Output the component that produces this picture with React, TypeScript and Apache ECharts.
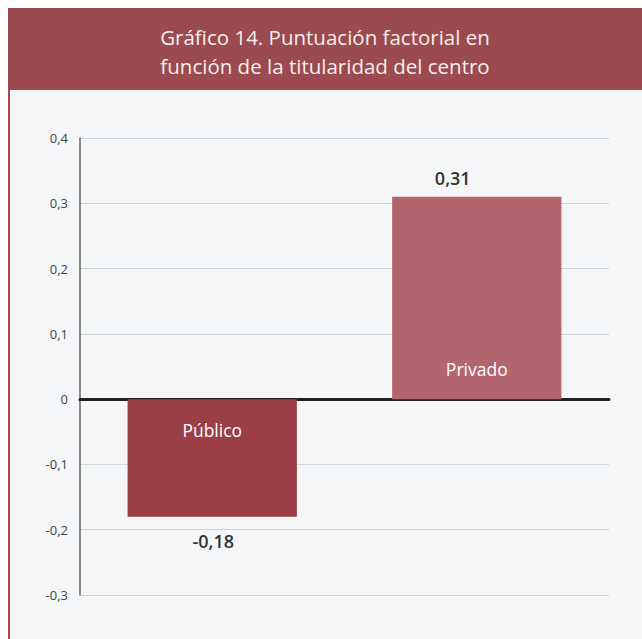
import React, { useEffect, useRef } from "react";
import * as echarts from "echarts";

const categories: string[] = ["Público", "Privado"];
const values: number[] = [-0.18, 0.31];
const barColors: string[] = ["#9a3f45", "#b3656e"];
const yTicks: number[] = [-0.3, -0.2, -0.1, 0, 0.1, 0.2, 0.3, 0.4];
const titleLines: string[] = [
  "Gráfico 14. Puntuación factorial en",
  "función de la titularidad del centro",
];

const fmt = (v: number) => {
  const r = Math.round(v * 100) / 100;
  if (r === 0) return "0";
  return String(r).replace(".", ",");
};

export default function App() {
  const ref = useRef<HTMLDivElement>(null);
  useEffect(() => {
    if (!ref.current) return;
    const chart = echarts.init(ref.current, undefined, { renderer: "svg" });
    const font = "Open Sans, Lato, sans-serif";
    chart.setOption({
      animation: false,
      backgroundColor: "#ffffff",
      graphic: [
        { type: "rect", shape: { x: 8, y: 90, width: 634, height: 549 }, style: { fill: "#f4f6f8" }, z: -10 },
        { type: "rect", shape: { x: 8, y: 90, width: 2, height: 549 }, style: { fill: "#b5474e" }, z: -9 },
        { type: "rect", shape: { x: 8, y: 8, width: 634, height: 82 }, style: { fill: "#9b4a4f" }, z: -9 },
        {
          type: "text",
          x: 325,
          y: 37,
          style: { text: titleLines[0], fill: "#f7eeee", font: `20.5px ${font}`, align: "center", verticalAlign: "middle" },
        },
        {
          type: "text",
          x: 325,
          y: 66,
          style: { text: titleLines[1], fill: "#f7eeee", font: `20.5px ${font}`, align: "center", verticalAlign: "middle" },
        },
      ],
      grid: { left: 80, right: 33, top: 138, bottom: 44, containLabel: false },
      xAxis: {
        type: "category",
        data: categories,
        axisLine: { onZero: true, lineStyle: { color: "#222", width: 3 } },
        axisTick: { show: false },
        axisLabel: { show: false },
        splitLine: { show: false },
      },
      yAxis: {
        type: "value",
        min: yTicks[0],
        max: yTicks[yTicks.length - 1],
        interval: 0.1,
        axisLine: { show: true, lineStyle: { color: "#666", width: 1.5 } },
        axisTick: { show: false },
        axisLabel: {
          formatter: (v: number) => fmt(v),
          color: "#444",
          fontSize: 13,
          fontFamily: font,
          margin: 12,
        },
        splitLine: { show: true, lineStyle: { color: "#cfd2d5", width: 1 } },
      },
      series: [
        {
          type: "bar",
          barWidth: "64%",
          data: values.map((v, i) => ({
            value: v,
            itemStyle: { color: barColors[i] },
            label: {
              show: true,
              position: v < 0 ? "insideTop" : "insideBottom",
              distance: v < 0 ? 22 : 21,
              formatter: "{b}",
              color: "#ffffff",
              fontSize: 17.5,
              fontFamily: font,
            },
          })),
        },
        {
          type: "bar",
          barWidth: "64%",
          barGap: "-100%",
          silent: true,
          z: 1,
          data: values.map((v) => ({
            value: v,
            itemStyle: { color: "rgba(0,0,0,0)" },
            label: {
              show: true,
              position: v < 0 ? "bottom" : "top",
              distance: v < 0 ? 15 : 10,
              offset: v < 0 ? [1, 0] : [-24, 0],
              formatter: (p: any) => fmt(p.value),
              color: "#333",
              fontSize: 18,
              fontWeight: 600,
              fontFamily: font,
            },
          })),
        },
      ],
    });
    return () => chart.dispose();
  }, []);
  return (
    <div
      ref={ref}
      style={{ position: "fixed", left: 0, top: 0, width: 642, height: 639 }}
    />
  );
}
